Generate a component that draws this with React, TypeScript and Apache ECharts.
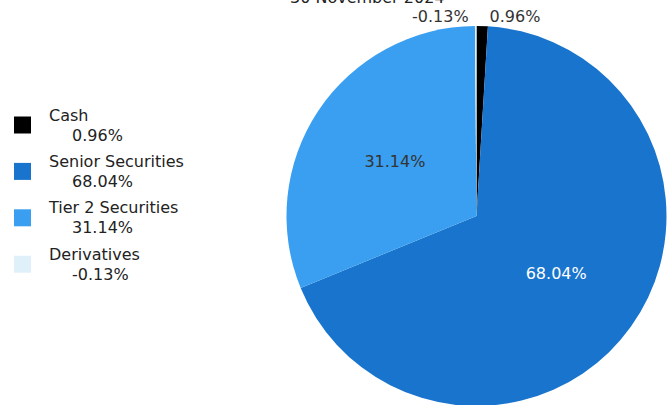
import React, { useEffect, useRef } from "react";
import * as echarts from "echarts";

const titleText = "30 November 2024";
const categories = ["Cash", "Senior Securities", "Tier 2 Securities", "Derivatives"];
const values = [0.96, 68.04, 31.14, -0.13];
const colors = ["#000000", "#1874cd", "#3a9ff0", "#e0f0fb"];
const labelInside = [false, true, true, false];
const labelColors = ["#333333", "#ffffff", "#333333", "#333333"];

const fmt = (v: number) => v.toFixed(2) + "%";

export default function App() {
  const ref = useRef<HTMLDivElement>(null);
  useEffect(() => {
    if (!ref.current) return;
    const chart = echarts.init(ref.current, null, { renderer: "svg" });
    const font = "DejaVu Sans";
    const fs = 16;
    chart.setOption({
      animation: false,
      title: {
        text: titleText,
        left: 290,
        top: -11,
        padding: 0,
        textStyle: { fontFamily: font, fontSize: fs, fontWeight: "normal", color: "#222" },
      },
      legend: {
        orient: "vertical",
        left: 14,
        top: 107,
        padding: 0,
        itemWidth: 17,
        itemHeight: 17,
        itemGap: 10.4,
        icon: "rect",
        selectedMode: false,
        data: categories,
        formatter: (name: string) => {
          const i = categories.indexOf(name);
          return "{n|" + name + "}\n{p|" + fmt(values[i]) + "}";
        },
        textStyle: {
          fontFamily: font,
          fontSize: fs,
          color: "#222",
          rich: {
            n: { fontFamily: font, fontSize: fs, lineHeight: 20, color: "#222", padding: [0, 0, 0, 13] },
            p: { fontFamily: font, fontSize: fs, lineHeight: 20, color: "#222", padding: [0, 0, 0, 36] },
          },
        },
      },
      series: [
        {
          type: "pie",
          center: [476.5, 216],
          radius: 190,
          startAngle: 90,
          clockwise: true,
          avoidLabelOverlap: false,
          labelLine: { show: false, length: 10, length2: 2 },
          data: categories.map((c, i) => ({
            name: c,
            value: Math.abs(values[i]),
            itemStyle: { color: colors[i] },
            label: {
              show: true,
              position: labelInside[i] ? "inside" : "outside",
              formatter: fmt(values[i]),
              color: labelColors[i],
              fontFamily: font,
              fontSize: fs,
            },
          })),
          emphasis: { disabled: true },
        },
      ],
    });
    return () => chart.dispose();
  }, []);
  return (
    <div
      ref={ref}
      style={{ position: "absolute", left: 0, top: 0, width: 671, height: 405 }}
    />
  );
}
